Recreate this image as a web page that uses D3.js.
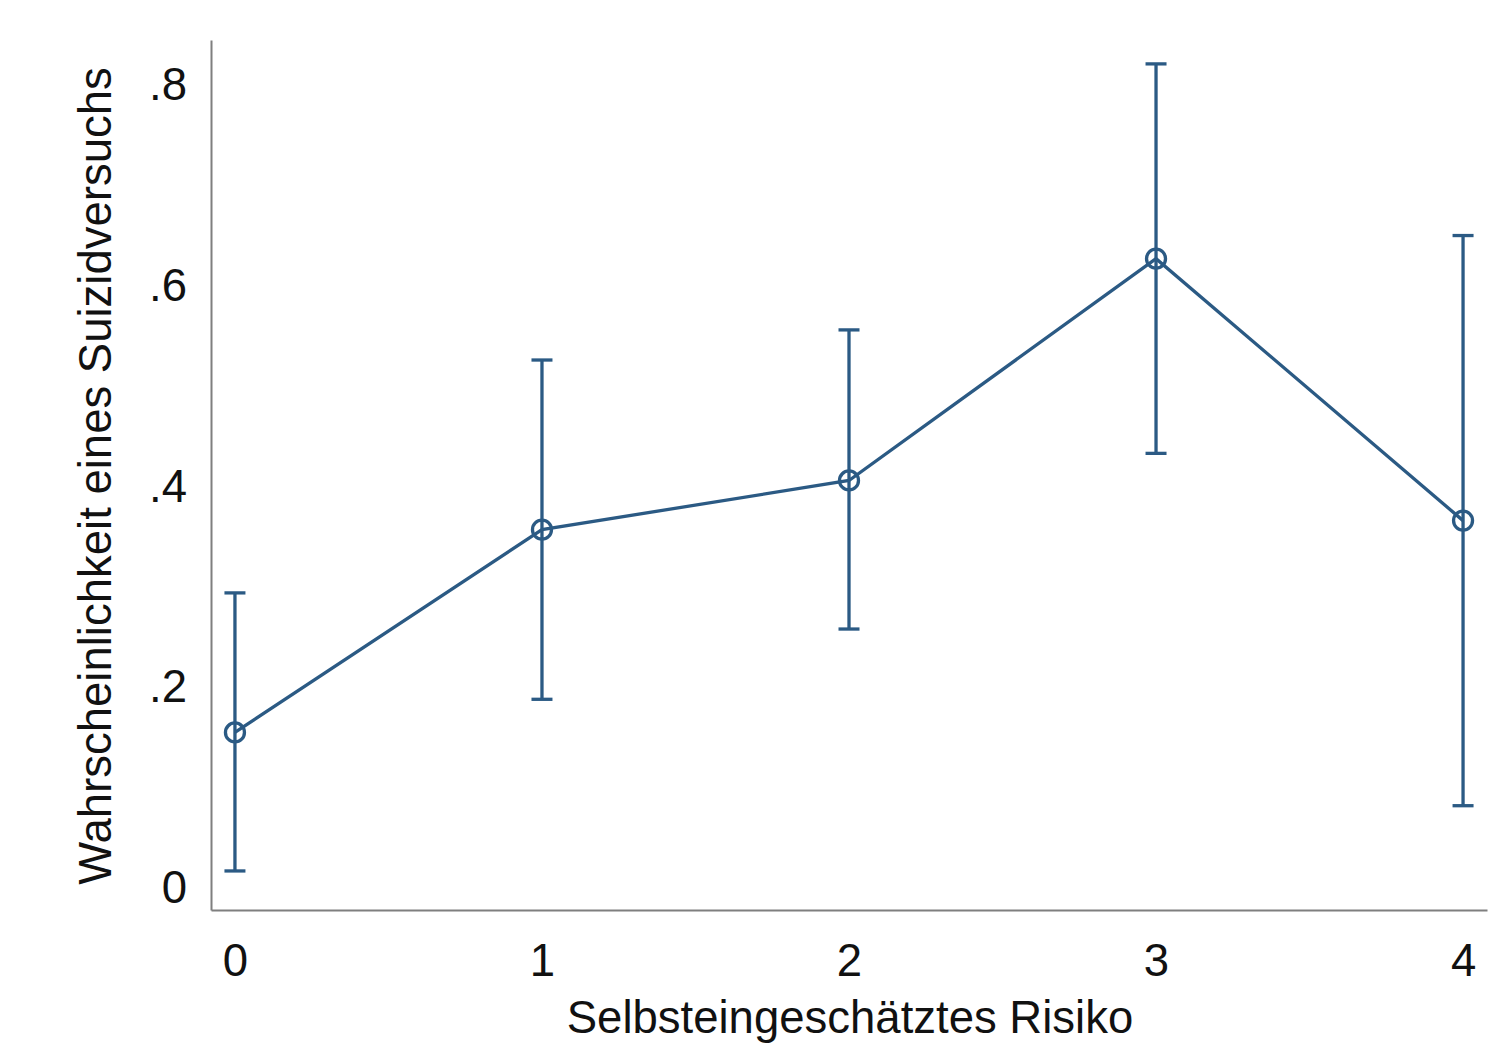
<!DOCTYPE html>
<html><head><meta charset="utf-8">
<script src="https://cdn.jsdelivr.net/npm/d3@7"></script>
<style>body{margin:0;background:#fff}</style>
</head><body>
<svg id="c" width="1507" height="1043"></svg>
<script>
const categories = [0, 1, 2, 3, 4];
const estimates = [0.155, 0.357, 0.406, 0.627, 0.366];
const lowerCI = [0.017, 0.188, 0.258, 0.433, 0.082];
const upperCI = [0.294, 0.526, 0.556, 0.821, 0.650];
const yTicks = [0, 0.2, 0.4, 0.6, 0.8];
const yTickLabels = ["0", ".2", ".4", ".6", ".8"];
const xTitle = "Selbsteingeschätztes Risiko";
const yTitle = "Wahrscheinlichkeit eines Suizidversuchs";

const svg = d3.select("#c");
const font = "Arial, 'Liberation Sans', sans-serif";
const color = "#2b5a84";
const axisColor = "#7f7f7f";

const x = d3.scaleLinear().domain([-0.078, 4.078]).range([211, 1487]);
const y = d3.scaleLinear().domain([-0.0219, 0.8448]).range([910, 40]);

// axes
const xAxis = d3.axisBottom(x).tickValues(categories).tickSize(0).tickPadding(34).tickFormat(d3.format("d"));
const gx = svg.append("g").attr("transform", "translate(0,910)").call(xAxis);
gx.select(".domain").attr("stroke", axisColor).attr("stroke-width", 2);
gx.selectAll("text").attr("font-family", font).attr("font-size", 45.5).attr("fill", "#111");

const yAxis = d3.axisLeft(y).tickValues(yTicks).tickSize(0).tickPadding(24)
  .tickFormat((d, i) => yTickLabels[i]);
const gy = svg.append("g").attr("transform", "translate(211,0)").call(yAxis);
gy.select(".domain").attr("stroke", axisColor).attr("stroke-width", 2);
gy.selectAll("text").attr("font-family", font).attr("font-size", 45.5).attr("fill", "#111");

// error bars
const capW = 10.5;
const eb = svg.append("g").attr("stroke", color).attr("stroke-width", 3.3).attr("fill", "none");
categories.forEach((c, i) => {
  eb.append("line").attr("x1", x(c)).attr("x2", x(c)).attr("y1", y(lowerCI[i])).attr("y2", y(upperCI[i]));
  eb.append("line").attr("x1", x(c) - capW).attr("x2", x(c) + capW).attr("y1", y(lowerCI[i])).attr("y2", y(lowerCI[i]));
  eb.append("line").attr("x1", x(c) - capW).attr("x2", x(c) + capW).attr("y1", y(upperCI[i])).attr("y2", y(upperCI[i]));
});

// line
const line = d3.line().x((d, i) => x(categories[i])).y(d => y(d));
svg.append("path").datum(estimates).attr("d", line)
  .attr("fill", "none").attr("stroke", color).attr("stroke-width", 3.3);

// markers
svg.append("g").selectAll("circle").data(estimates).join("circle")
  .attr("cx", (d, i) => x(categories[i])).attr("cy", d => y(d)).attr("r", 9.5)
  .attr("fill", "none").attr("stroke", color).attr("stroke-width", 3.3);

// titles
svg.append("text").attr("x", 850).attr("y", 1033).attr("text-anchor", "middle")
  .attr("font-family", font).attr("font-size", 45.5).attr("fill", "#111").text(xTitle);
svg.append("text").attr("transform", "translate(111,476) rotate(-90)").attr("text-anchor", "middle")
  .attr("font-family", font).attr("font-size", 45.5).attr("fill", "#111").text(yTitle);
</script>
</body></html>
